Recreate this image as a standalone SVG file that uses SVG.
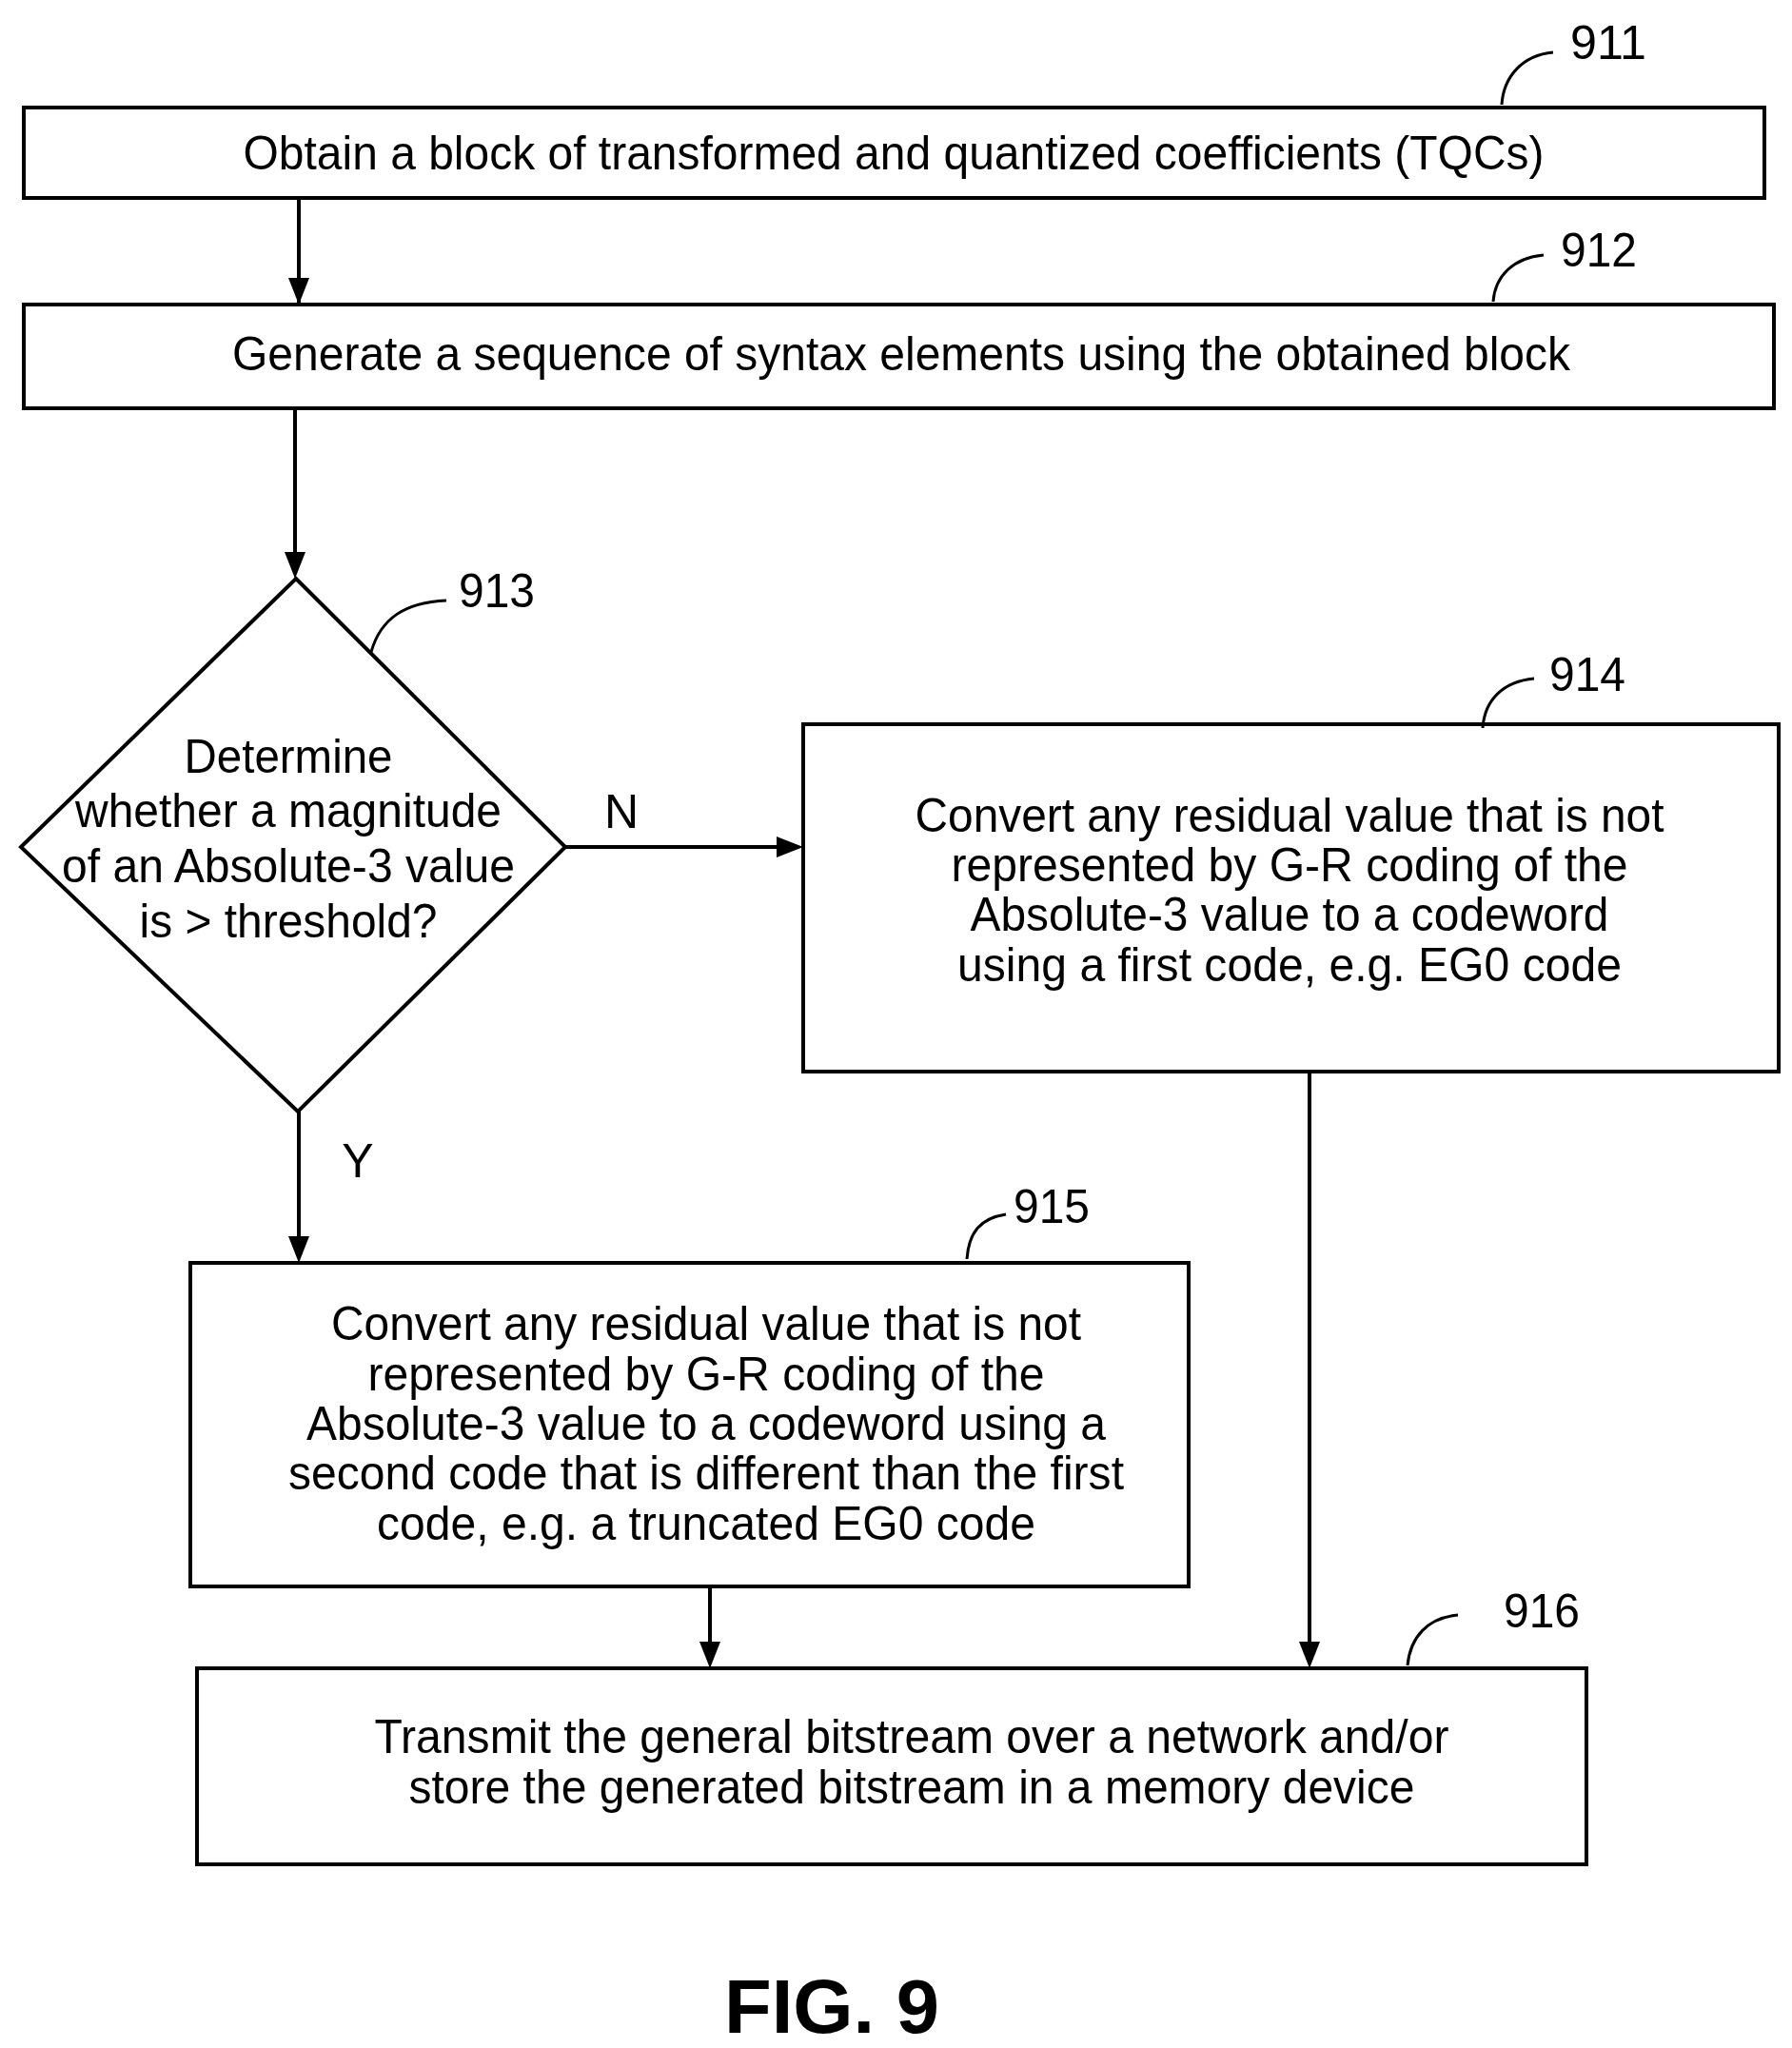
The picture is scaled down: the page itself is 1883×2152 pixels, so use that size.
<svg xmlns="http://www.w3.org/2000/svg" width="1883" height="2152" viewBox="0 0 1883 2152">
<style>
.b{fill:#fff;stroke:#000;stroke-width:4}
.t{font-family:"Liberation Sans",Arial,sans-serif;font-size:50px;text-anchor:middle;fill:#000}
.c{fill:none;stroke:#000;stroke-width:3}
.a{fill:none;stroke:#000;stroke-width:4;marker-end:url(#ar)}
</style>
<defs><marker id="ar" markerWidth="10" markerHeight="10" refX="9" refY="5" orient="auto" markerUnits="userSpaceOnUse" viewBox="0 0 10 10"><path d="M0,0 L10,5 L0,10 Z" fill="#000" transform="scale(1)"/></marker></defs>
<rect width="1883" height="2152" fill="#fff"/>
<g id="connectors">
<path class="a" d="M314,208 V318" style="marker-end:none"/><path d="M303,292 L314,320 L325,292 Z"/>
<path class="a" d="M310,429 V582" style="marker-end:none"/><path d="M299,580 L310,608 L321,580 Z"/>
<path class="a" d="M594,890 H820" style="marker-end:none"/><path d="M816,879 L844,890 L816,901 Z"/>
<path class="a" d="M314,1168 V1300" style="marker-end:none"/><path d="M303,1299 L314,1327 L325,1299 Z"/>
<path class="a" d="M1376,1126 V1726" style="marker-end:none"/><path d="M1365,1725 L1376,1753 L1387,1725 Z"/>
<path class="a" d="M746,1667 V1726" style="marker-end:none"/><path d="M735,1725 L746,1753 L757,1725 Z"/>
<text class="t" x="653" y="870">N</text>
<text class="t" x="376" y="1237">Y</text>
</g>
<g id="n911">
<rect class="b" x="25" y="113" width="1829" height="95"/>
<text class="t" x="939" y="178" textLength="1367" lengthAdjust="spacingAndGlyphs">Obtain a block of transformed and quantized coefficients (TQCs)</text>
<path class="c" d="M1578,110 C1580,80 1600,58 1632,55"/>
<text class="t" x="1690" y="62" textLength="80" lengthAdjust="spacingAndGlyphs">911</text>
</g>
<g id="n912">
<rect class="b" x="25" y="320" width="1839" height="109"/>
<text class="t" x="947" y="389" textLength="1406" lengthAdjust="spacingAndGlyphs">Generate a sequence of syntax elements using the obtained block</text>
<path class="c" d="M1569,317 C1571,290 1590,271 1622,268"/>
<text class="t" x="1680" y="280" textLength="80" lengthAdjust="spacingAndGlyphs">912</text>
</g>
<g id="n913">
<path class="b" d="M311,608 L594,890 L313,1168 L22,890 Z"/>
<text class="t" x="303" y="812" textLength="219" lengthAdjust="spacingAndGlyphs">Determine</text>
<text class="t" x="303" y="869" textLength="448" lengthAdjust="spacingAndGlyphs">whether a magnitude</text>
<text class="t" x="303" y="927" textLength="476" lengthAdjust="spacingAndGlyphs">of an Absolute-3 value</text>
<text class="t" x="303" y="985" textLength="313" lengthAdjust="spacingAndGlyphs">is &gt; threshold?</text>
<path class="c" d="M390,685 C400,650 425,633 469,631"/>
<text class="t" x="522" y="638" textLength="80" lengthAdjust="spacingAndGlyphs">913</text>
</g>
<g id="n914">
<rect class="b" x="844" y="761" width="1025" height="365"/>
<text class="t" x="1355" y="874" textLength="787" lengthAdjust="spacingAndGlyphs">Convert any residual value that is not</text>
<text class="t" x="1355" y="926" textLength="711" lengthAdjust="spacingAndGlyphs">represented by G-R coding of the</text>
<text class="t" x="1355" y="978" textLength="671" lengthAdjust="spacingAndGlyphs">Absolute-3 value to a codeword</text>
<text class="t" x="1355" y="1031" textLength="698" lengthAdjust="spacingAndGlyphs">using a first code, e.g. EG0 code</text>
<path class="c" d="M1558,765 C1560,735 1580,716 1612,713"/>
<text class="t" x="1668" y="726" textLength="80" lengthAdjust="spacingAndGlyphs">914</text>
</g>
<g id="n915">
<rect class="b" x="200" y="1327" width="1049" height="340"/>
<text class="t" x="742" y="1408" textLength="788" lengthAdjust="spacingAndGlyphs">Convert any residual value that is not</text>
<text class="t" x="742" y="1461" textLength="711" lengthAdjust="spacingAndGlyphs">represented by G-R coding of the</text>
<text class="t" x="742" y="1513" textLength="840" lengthAdjust="spacingAndGlyphs">Absolute-3 value to a codeword using a</text>
<text class="t" x="742" y="1565" textLength="878" lengthAdjust="spacingAndGlyphs">second code that is different than the first</text>
<text class="t" x="742" y="1618" textLength="692" lengthAdjust="spacingAndGlyphs">code, e.g. a truncated EG0 code</text>
<path class="c" d="M1016,1323 C1018,1295 1030,1280 1057,1276"/>
<text class="t" x="1105" y="1285" textLength="80" lengthAdjust="spacingAndGlyphs">915</text>
</g>
<g id="n916">
<rect class="b" x="207" y="1753" width="1460" height="206"/>
<text class="t" x="958" y="1842" textLength="1129" lengthAdjust="spacingAndGlyphs">Transmit the general bitstream over a network and/or</text>
<text class="t" x="958" y="1895" textLength="1057" lengthAdjust="spacingAndGlyphs">store the generated bitstream in a memory device</text>
<path class="c" d="M1479,1750 C1482,1720 1500,1700 1532,1697"/>
<text class="t" x="1620" y="1710" textLength="80" lengthAdjust="spacingAndGlyphs">916</text>
</g>
<text class="t" x="874" y="2136" style="font-weight:bold;font-size:80px" textLength="226" lengthAdjust="spacingAndGlyphs">FIG. 9</text>
</svg>
